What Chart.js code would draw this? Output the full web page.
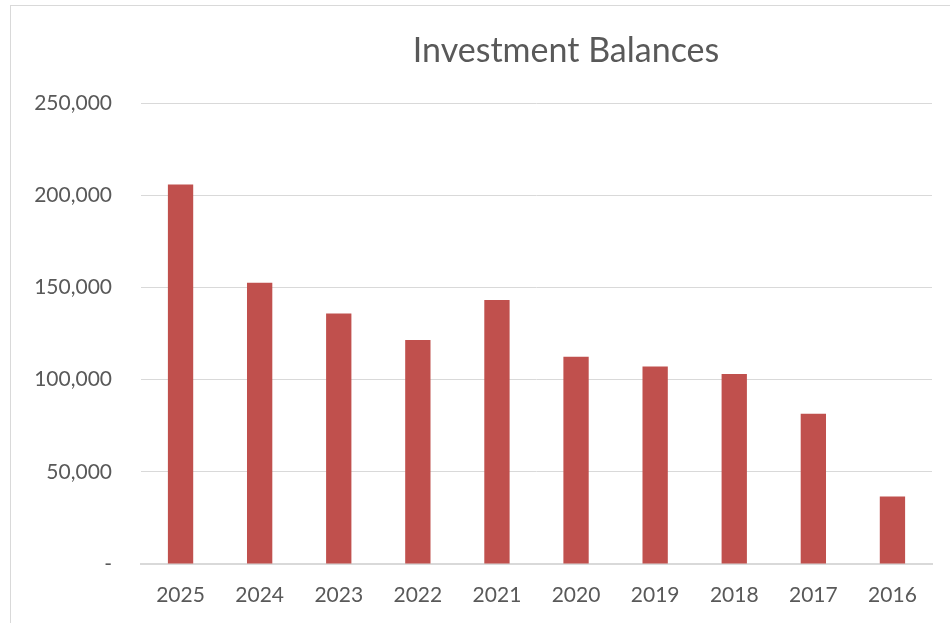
<!DOCTYPE html>
<html>
<head>
<meta charset="utf-8">
<script src="https://cdn.jsdelivr.net/npm/chart.js@4/dist/chart.umd.min.js"></script>
<style>
  html, body { margin: 0; padding: 0; background: #fff; overflow: hidden; }
  #wrap { position: relative; width: 950px; height: 623px; overflow: hidden; }
  #frame { position: absolute; left: 10px; top: 5px; width: 980px; height: 660px; border: 1px solid #d9d9d9; box-sizing: border-box; }
  canvas { position: absolute; left: 0; top: 0; }
</style>
</head>
<body>
<div id="wrap">
  <div id="frame"></div>
  <canvas id="barras" width="950" height="623"></canvas>
</div>
<script>
// values
const years = ['2025', '2024', '2023', '2022', '2021', '2020', '2019', '2018', '2017', '2016'];
const balances = [205800, 152500, 135900, 121500, 143100, 112400, 107100, 103000, 81500, 36600];
const yTicks = [0, 50000, 100000, 150000, 200000, 250000];
const chartTitle = 'Investment Balances';

const textColor = '#595959';
const fontFamily = 'Lato, "Open Sans", sans-serif';

// title drawn by hand because Excel put it off-centre
const titlePlugin = {
    id: 'titleText',
    afterDraw(chart) {
        const ctx = chart.ctx;
        ctx.save();
        ctx.font = '34px ' + fontFamily;
        ctx.fillStyle = textColor;
        ctx.textAlign = 'center';
        ctx.textBaseline = 'middle';
        ctx.fillText(chartTitle, 566, 51);
        ctx.restore();
    }
};

function fmt(v){
    if (v === 0) return '-';
    return v.toLocaleString('en-US');
}

var barras = document.getElementById('barras').getContext('2d');
new Chart(barras, {
    type: 'bar',
    data: {
        labels: years,
        datasets: [{
            label: chartTitle,
            data: balances,
            backgroundColor: '#c0504d',
            borderWidth: 0,
            barPercentage: 1,
            categoryPercentage: 0.32
        }]
    },
    options: {
        responsive: false,
        animation: false,
        layout: { padding: { left: 0, right: 18, top: 103, bottom: 0 } },
        plugins: {
            legend: { display: false },
            tooltip: { enabled: false },
            title: { display: false }
        },
        scales: {
            x: {
                grid: { display: false, drawTicks: false },
                border: { color: '#d9d9d9', width: 2 },
                ticks: { color: textColor, font: { family: fontFamily, size: 21 }, padding: 19, maxRotation: 0 },
                afterFit(scale){ scale.height = 59; }
            },
            y: {
                min: 0,
                max: 250000,
                afterBuildTicks(scale){ scale.ticks = yTicks.map(v => ({ value: v })); },
                grid: { color: '#d9d9d9', lineWidth: 1, drawTicks: false },
                border: { display: false },
                ticks: { color: textColor, font: { family: fontFamily, size: 21 }, padding: 29, callback: fmt },
                afterFit(scale){ scale.width = 141; }
            }
        }
    },
    plugins: [titlePlugin]
});
</script>
</body>
</html>
